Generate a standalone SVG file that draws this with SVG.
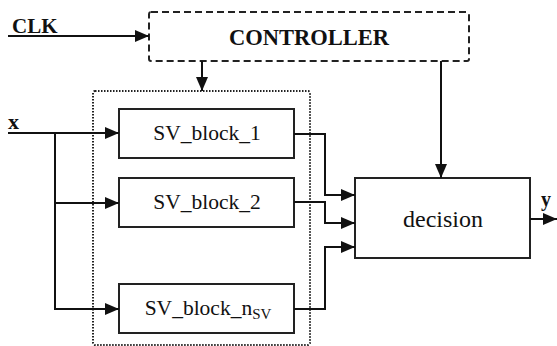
<svg xmlns="http://www.w3.org/2000/svg" width="557" height="346" viewBox="0 0 557 346">
<style>
.blk{fill:#fff;stroke:#222;stroke-width:2}
.ln{fill:none;stroke:#111;stroke-width:2}
text{font-family:'Liberation Serif','Times New Roman',serif;fill:#111}
.b{font-weight:bold}
</style>
<defs>
<marker id="ah" markerUnits="userSpaceOnUse" markerWidth="14" markerHeight="12" refX="14" refY="6" orient="auto">
<path d="M0,0 L14,6 L0,12 z" fill="#111"/>
</marker>
</defs>
<rect width="557" height="346" fill="#fff"/>
<g id="group-box">
<rect x="93" y="91" width="217" height="254" rx="2" fill="none" stroke="#222" stroke-width="2" stroke-dasharray="1.5 1.5"/>
</g>
<g id="controller">
<rect x="149" y="12" width="320" height="49" rx="2" fill="none" stroke="#222" stroke-width="2" stroke-dasharray="7 4"/>
<text class="b" x="309" y="45" font-size="22.5" text-anchor="middle">CONTROLLER</text>
</g>
<g id="sv1">
<rect class="blk" x="119" y="109" width="175" height="49"/>
<text x="207" y="140" font-size="21.5" text-anchor="middle">SV_block_1</text>
</g>
<g id="sv2">
<rect class="blk" x="119" y="178" width="175" height="49"/>
<text x="207" y="209" font-size="21.5" text-anchor="middle">SV_block_2</text>
</g>
<g id="svn">
<rect class="blk" x="119" y="284" width="175" height="49"/>
<text x="208" y="315" font-size="21.5" text-anchor="middle">SV_block_n<tspan font-size="15" dy="4">SV</tspan></text>
</g>
<g id="decision">
<rect class="blk" x="355" y="178" width="175" height="80"/>
<text x="443" y="227" font-size="24" text-anchor="middle">decision</text>
</g>
<g id="labels">
<text class="b" x="12" y="33" font-size="21">CLK</text>
<text class="b" x="8" y="129" font-size="22">x</text>
<text class="b" x="541" y="206" font-size="20">y</text>
</g>
<g id="connectors">
<path class="ln" d="M8,36 H149" marker-end="url(#ah)"/>
<path class="ln" d="M202,61 V91" marker-end="url(#ah)"/>
<path class="ln" d="M441,61 V178" marker-end="url(#ah)"/>
<path class="ln" d="M8,133 H119" marker-end="url(#ah)"/>
<path class="ln" d="M55,133 V309 H119" marker-end="url(#ah)"/>
<path class="ln" d="M55,203 H119" marker-end="url(#ah)"/>
<path class="ln" d="M294,134 H325 V195 H355" marker-end="url(#ah)"/>
<path class="ln" d="M294,202 H325 V223 H355" marker-end="url(#ah)"/>
<path class="ln" d="M294,309 H325 V247 H355" marker-end="url(#ah)"/>
<path class="ln" d="M530,219 H557" marker-end="url(#ah)"/>
</g>
</svg>
